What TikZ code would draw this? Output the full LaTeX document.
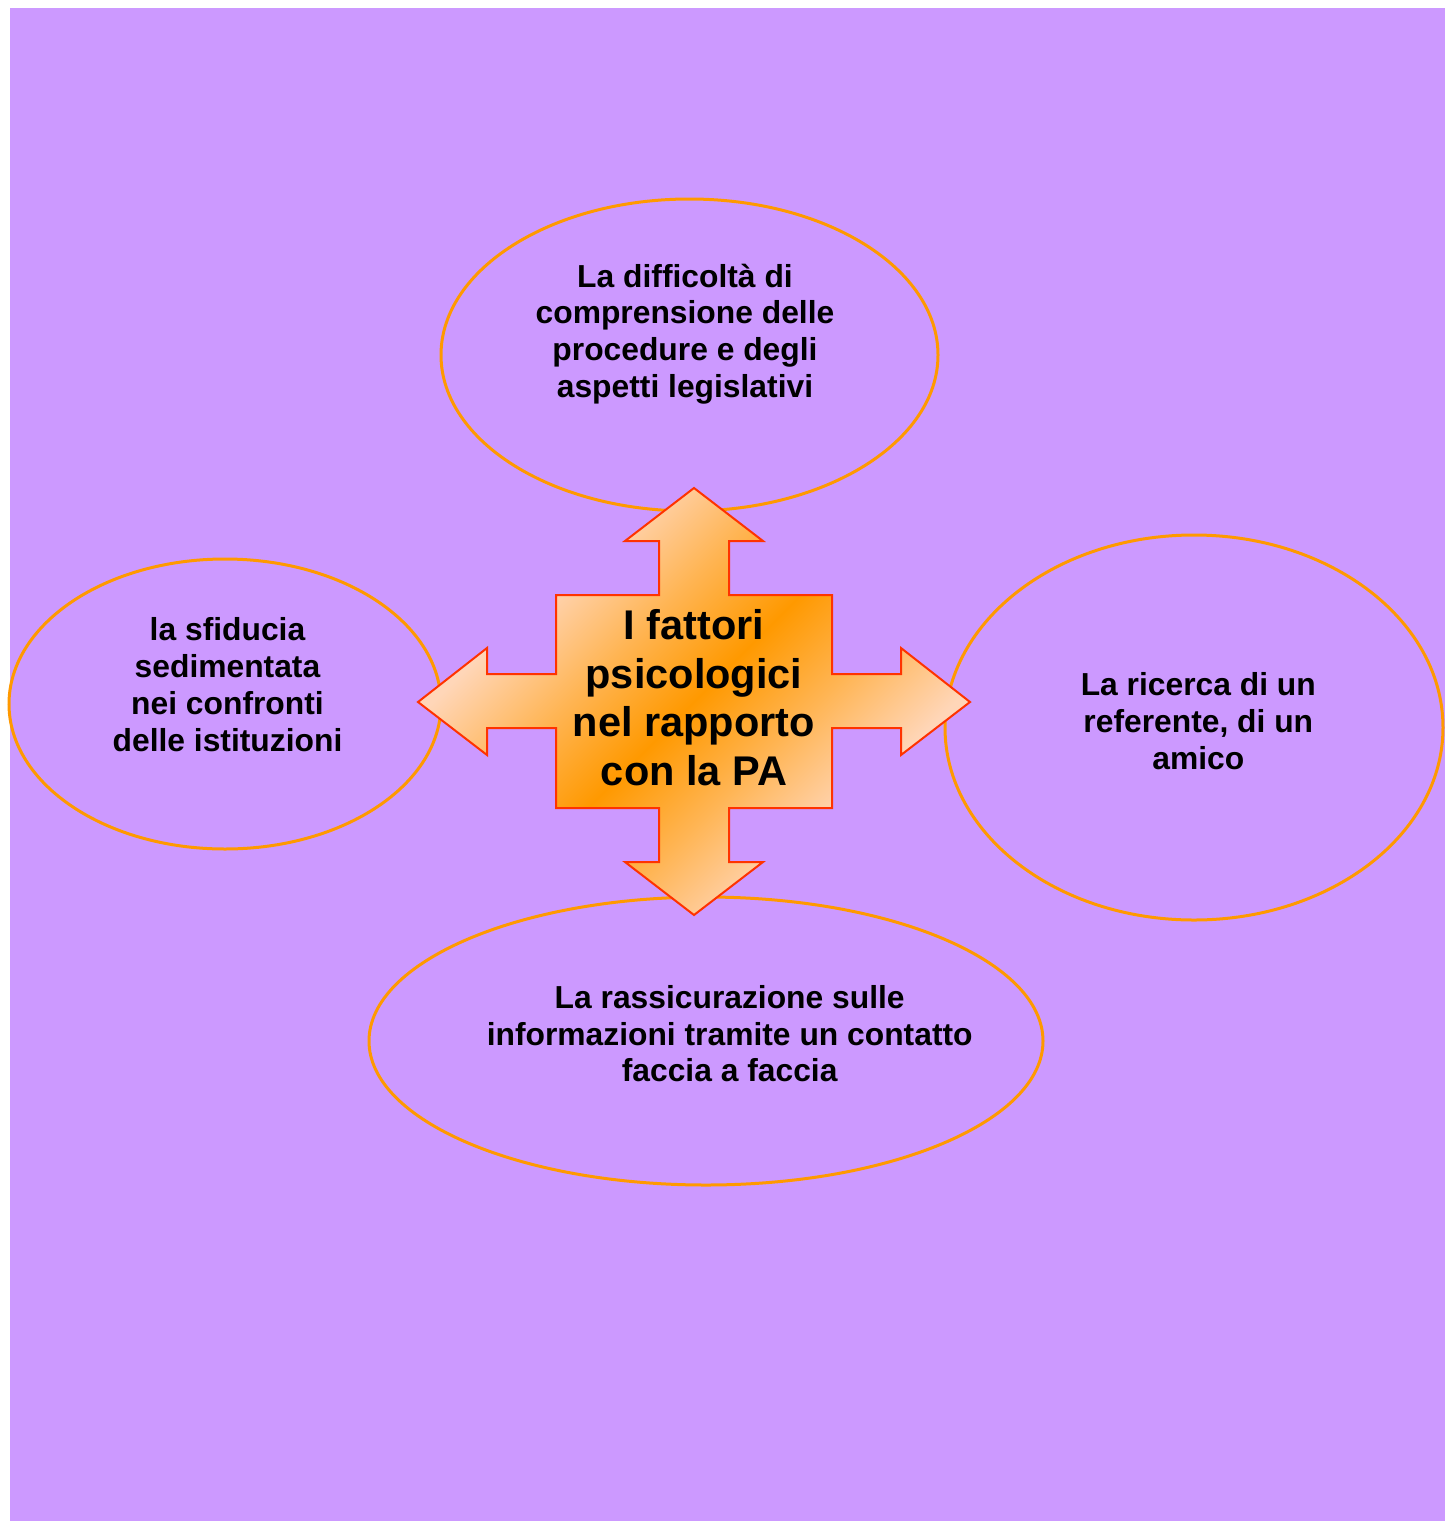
\documentclass[tikz,border=0pt]{standalone}
\usepackage{fontspec}
\setmainfont{Liberation Sans}
\usetikzlibrary{shapes.geometric}

\definecolor{panel}{HTML}{CC99FF}
\definecolor{ringorange}{HTML}{FF9900}
\definecolor{crossedge}{HTML}{FF3300}
\definecolor{crosslight}{HTML}{FFD6B8}
\definecolor{crossdark}{HTML}{FF9900}
\colorlet{crossmid}{crossdark!55!crosslight}

% light -- orange -- light band across the cross
\pgfdeclareverticalshading{crossband}{100bp}{%
  color(0bp)=(crosslight); color(31bp)=(crosslight);
  color(41bp)=(crossmid); color(50bp)=(crossdark); color(59bp)=(crossmid);
  color(69bp)=(crosslight); color(100bp)=(crosslight)}

\tikzset{
  ring/.style={draw=ringorange, line width=3pt, ellipse, inner sep=0pt},
  ringtext/.style={font=\bfseries\fontsize{31.8}{36.8}\selectfont, align=center, text=black, inner sep=0pt},
  crossshape/.style={shading=crossband, shading angle=45, draw=crossedge, line width=2pt, line join=miter},
  crosstext/.style={font=\bfseries\fontsize{41.5}{48.5}\selectfont, align=center, text=black, inner sep=0pt}
}

\begin{document}
\begin{tikzpicture}[x=1pt, y=-1pt]
  \useasboundingbox (0,0) rectangle (1445,1521);
  \fill[white] (0,0) rectangle (1445,1521);
  \fill[panel] (10,8) rectangle (1445,1521);

  % surrounding ellipses
  \node[ring, minimum width=497pt, minimum height=312pt] (top) at (689.5,355) {};
  \node[ring, minimum width=432pt, minimum height=290pt] (left) at (225,704) {};
  \node[ring, minimum width=498pt, minimum height=385pt] (right) at (1194,727.5) {};
  \node[ring, minimum width=674pt, minimum height=288pt] (bottom) at (706,1041) {};

  % four-way arrow
  \path[crossshape]
    (694,488) -- (763,541) -- (729,541) -- (729,595) -- (832,595) -- (832,674)
    -- (901,674) -- (901,648) -- (970,702) -- (901,755) -- (901,728) -- (832,728)
    -- (832,808) -- (729,808) -- (729,862) -- (763,862) -- (694,915) -- (625,862)
    -- (659,862) -- (659,808) -- (556,808) -- (556,728) -- (487,728) -- (487,755)
    -- (418,702) -- (487,648) -- (487,674) -- (556,674) -- (556,595) -- (659,595)
    -- (659,541) -- (625,541) -- cycle;

  \node[crosstext] (title) at (694,697.5) {I fattori\\psicologici\\nel rapporto\\con la PA};

  \node[ringtext] (toptext) at (685,334) {La difficolt\`a di\\comprensione delle\\procedure e degli\\aspetti legislativi};
  \node[ringtext] (lefttext) at (227.5,684.7) {la sfiducia\\sedimentata\\nei confronti\\delle istituzioni};
  \node[ringtext] (righttext) at (1198.3,721) {La ricerca di un\\referente, di un\\amico};
  \node[ringtext] (bottomtext) at (729.7,1033.7) {La rassicurazione sulle\\informazioni tramite un contatto\\faccia a faccia};
\end{tikzpicture}
\end{document}
